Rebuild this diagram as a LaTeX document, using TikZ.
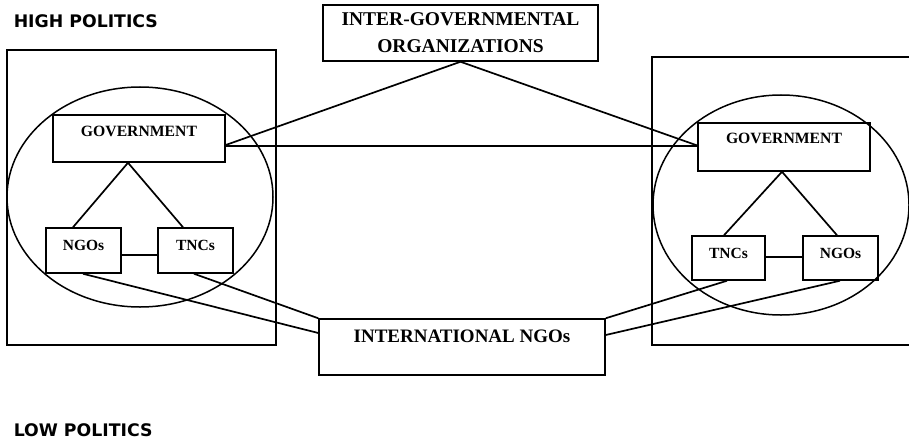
\documentclass[tikz,border=0pt]{standalone}
\usepackage{fontspec}
\setmainfont{Liberation Serif}
\newfontfamily\headfont{DejaVu Sans}
\usetikzlibrary{calc}
\begin{document}
\begin{tikzpicture}[x=1pt,y=-1pt,
  line width=1.5pt,
  box/.style={draw, rectangle, inner sep=0pt, font=\bfseries},
  govbox/.style={box, minimum width=172pt, minimum height=47pt,
    font=\fontsize{15.7}{18}\selectfont\bfseries, text height=10.4pt},
  smallbox/.style={box, minimum width=75pt, minimum height=45pt,
    font=\fontsize{15.5}{18}\selectfont\bfseries, text height=10.3pt},
  bigbox/.style={box, minimum height=56pt,
    font=\fontsize{19.5}{27}\selectfont\bfseries},
  head/.style={inner sep=0pt, anchor=west, font=\headfont\fontsize{17.3}{20}\selectfont\bfseries},
  link/.style={line width=1.7pt}
]
\useasboundingbox (0,0) rectangle (909,441);
% outer frames
\draw (7,50) rectangle (276,345);
\draw (652,57) rectangle (914,345);
% circles
\draw (140,197) ellipse [x radius=133, y radius=110];
\draw (781,205) ellipse [x radius=128, y radius=110];
% headings
\node[head] (high) at (13,21) {HIGH POLITICS};
\node[head] (low) at (13,430) {LOW POLITICS};
% boxes
\node[bigbox, minimum width=275pt, align=center] (igo) at (460.5,33) {INTER-GOVERNMENTAL\\ORGANIZATIONS};
\node[bigbox, minimum width=286pt, font=\fontsize{19}{22}\selectfont\bfseries, text height=12.6pt, text depth=21pt] (ingo) at (462,347) {INTERNATIONAL NGOs};
\node[govbox, text depth=15pt] (lgov) at (139,138.5) {GOVERNMENT};
\node[smallbox, text depth=11pt] (lngo) at (83.5,250.5) {NGOs};
\node[smallbox, text depth=11pt] (ltnc) at (195.5,250.5) {TNCs};
\node[govbox, minimum height=48pt, text depth=17pt] (rgov) at (784,147) {GOVERNMENT};
\node[smallbox, minimum width=73pt, minimum height=44pt, text depth=10pt] (rtnc) at (728.5,258) {TNCs};
\node[smallbox, minimum height=44pt, text depth=10pt] (rngo) at (840.5,258) {NGOs};
% left cluster
\draw[link] ($(lgov.south)+(-11,0)$) -- ($(lngo.north)+(-10.5,0)$);
\draw[link] ($(lgov.south)+(-11,0)$) -- ($(ltnc.north)+(-12.5,0)$);
\draw[link] ($(lngo.east)+(0,4.5)$) -- ($(ltnc.west)+(0,4.5)$);
% right cluster
\draw[link] ($(rgov.south)+(-2,0)$) -- ($(rtnc.north)+(-4.5,0)$);
\draw[link] ($(rgov.south)+(-2,0)$) -- ($(rngo.north)+(-3.5,0)$);
\draw[link] ($(rtnc.east)+(0,-1)$) -- ($(rngo.west)+(0,-1)$);
% inter-governmental links
\draw[link] (igo.south) -- ($(lgov.east)+(0,6.5)$);
\draw[link] (igo.south) -- ($(rgov.west)+(0,-1.5)$);
\draw[line width=2pt] ($(lgov.east)+(0,7.5)$) -- ($(rgov.west)+(0,-1)$);
% international NGO links
\draw[link] ($(ltnc.south)+(-1.5,0)$) -- (ingo.north west);
\draw[link] ($(lngo.south)+(-0.5,0)$) -- ($(ingo.west)+(0,-14)$);
\draw[link] ($(rtnc.south)+(-1.5,0)$) -- (ingo.north east);
\draw[link] ($(rngo.south)+(-0.5,0)$) -- ($(ingo.east)+(0,-12)$);
\end{tikzpicture}
\end{document}
